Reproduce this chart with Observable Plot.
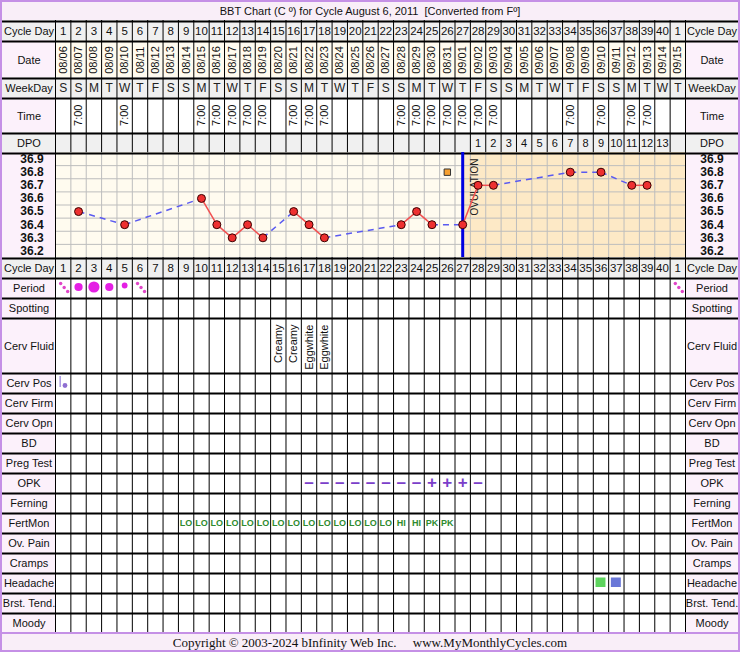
<!DOCTYPE html>
<html><head><meta charset="utf-8">
<script src="https://cdn.jsdelivr.net/npm/d3@7"></script>
<script src="https://cdn.jsdelivr.net/npm/@observablehq/plot@0.6"></script>
<style>
html,body{margin:0;padding:0;background:#fff;}
#wrap{width:736px;border:2px solid #c590e6;font-family:"Liberation Sans",Arial,sans-serif;color:#111;}
#title{height:18px;background:#f9eef8;text-align:center;font-size:11px;line-height:19px;white-space:pre;}
#footer{height:16px;background:#f9eef8;text-align:center;font-family:"Liberation Serif","Times New Roman",serif;font-size:13px;line-height:17px;white-space:pre;border-top:2px solid #c590e6;}
svg{display:block;}
</style></head>
<body>
<div id="wrap">
  <div id="title">BBT Chart (C º) for Cycle August 6, 2011  [Converted from Fº]</div>
  <div id="rows"></div>
  <div id="footer">Copyright © 2003-2024 bInfinity Web Inc.     www.MyMonthlyCycles.com</div>
</div>
<script>
// ---------- data ----------
const cycleDays = [1,2,3,4,5,6,7,8,9,10,11,12,13,14,15,16,17,18,19,20,21,22,23,24,25,26,27,28,29,30,31,32,33,34,35,36,37,38,39,40,1];
const dates = ["08/06","08/07","08/08","08/09","08/10","08/11","08/12","08/13","08/14","08/15","08/16","08/17","08/18","08/19","08/20","08/21","08/22","08/23","08/24","08/25","08/26","08/27","08/28","08/29","08/30","08/31","09/01","09/02","09/03","09/04","09/05","09/06","09/07","09/08","09/09","09/10","09/11","09/12","09/13","09/14","09/15"];
const weekdays = ["S","S","M","T","W","T","F","S","S","M","T","W","T","F","S","S","M","T","W","T","F","S","S","M","T","W","T","F","S","S","M","T","W","T","F","S","S","M","T","W","T"];
const timeDays = [2,5,10,11,12,13,14,16,17,18,23,24,25,26,27,28,29,34,36,38,39];
const timeValue = "7:00";
const dpoDays = [28,29,30,31,32,33,34,35,36,37,38,39,40];
const dpoValues = [1,2,3,4,5,6,7,8,9,10,11,12,13];
const tempDays = [2,5,10,11,12,13,14,16,17,18,23,24,25,27,28,29,34,36,38,39];
const tempValues = [36.5,36.4,36.6,36.4,36.3,36.4,36.3,36.5,36.4,36.3,36.4,36.5,36.4,36.4,36.7,36.7,36.8,36.8,36.7,36.7];
const discardedDays = [26];
const discardedValues = [36.8];
const tempTicks = [36.9,36.8,36.7,36.6,36.5,36.4,36.3,36.2];
const ovulationDay = 27;
const periodCols = [0,1,2,3,4,5,40];
const periodFlow = ["spotting","medium","heavy","medium","light","spotting","spotting"];
const cervFluidDays = [15,16,17,18];
const cervFluidValues = ["Creamy","Creamy","Eggwhite","Eggwhite"];
const cervPosDays = [1];
const opkDays = [17,18,19,20,21,22,23,24,25,26,27,28];
const opkValues = ["–","–","–","–","–","–","–","–","+","+","+","–"];
const fertMonDays = [9,10,11,12,13,14,15,16,17,18,19,20,21,22,23,24,25,26];
const fertMonValues = ["LO","LO","LO","LO","LO","LO","LO","LO","LO","LO","LO","LO","LO","LO","HI","HI","PK","PK"];
const headacheDays = [36,37];
const headacheLevels = ["mild","moderate"];
const lowerLabels = ["Cerv Pos","Cerv Firm","Cerv Opn","BD","Preg Test","OPK","Ferning","FertMon","Ov. Pain","Cramps","Headache","Brst. Tend.","Moody"];

// ---------- layout / style ----------
const W = 736, N = cycleDays.length, LW = 53 / (630 / N);
const cols = d3.range(N);
const FONT = '"Liberation Sans", Arial, sans-serif';
const PINK = "#fcf1fb", GRAY = "#f0f0f0", CREAM = "#fffbef", LUTEAL = "#fde9c6";
const col = day => day - 1;

function row(h, marks, yDomain = [0, 1]) {
  return Plot.plot({
    width: W, height: h, margin: 0,
    x: {type: "linear", domain: [-LW, N + LW], range: [0, W], axis: null},
    y: {type: "linear", domain: yDomain, range: [h, 0], axis: null},
    style: {background: "transparent", fontFamily: FONT, fontSize: "11px", color: "#111", overflow: "visible"},
    marks
  });
}

function tableRow({label, h = 20, labelFill = PINK, cellFill = "white", extra = []}) {
  return row(h, [
    Plot.rect([0], {x1: -LW, x2: 0, y1: 0, y2: 1, fill: labelFill}),
    Plot.rect([0], {x1: N, x2: N + LW, y1: 0, y2: 1, fill: labelFill}),
    Plot.rect([0], {x1: 0, x2: N, y1: 0, y2: 1, fill: cellFill}),
    Plot.ruleX(d3.range(N + 1), {stroke: "#000", strokeWidth: 1}),
    Plot.ruleY([1], {stroke: "#000", strokeWidth: 2, dy: 1}),
    Plot.text([label], {x: -LW / 2, y: 0.5, dy: 1, text: d => d, fill: "#111"}),
    Plot.text([label], {x: N + LW / 2, y: 0.5, dy: 1, text: d => d, fill: "#111"}),
    ...extra
  ]);
}

const rowsEl = document.getElementById("rows");
const add = el => rowsEl.appendChild(el);

const cycleDayRow = () => tableRow({label: "Cycle Day", labelFill: GRAY, cellFill: GRAY, extra: [
  Plot.text(cycleDays, {x: (d, i) => i + 0.5, y: 0.5, dy: 1, text: d => String(d), fontSize: 11.5})
]});

add(cycleDayRow());
add(tableRow({label: "Date", h: 37, cellFill: CREAM, extra: [
  Plot.text(dates, {x: (d, i) => i + 0.5, y: 0.5, dy: 1, text: d => d, rotate: -90, fontSize: 11})
]}));
add(tableRow({label: "WeekDay", labelFill: GRAY, cellFill: GRAY, extra: [
  Plot.text(weekdays, {x: (d, i) => i + 0.5, y: 0.5, dy: 1, text: d => d, fontSize: 12, fill: "#222"})
]}));
add(tableRow({label: "Time", h: 35, extra: [
  Plot.text(timeDays, {x: d => col(d) + 0.5, y: 1, dy: 7, text: () => timeValue, rotate: -90, textAnchor: "end", fontSize: 11})
]}));
add(tableRow({label: "DPO", labelFill: GRAY, cellFill: GRAY, extra: [
  Plot.text(dpoDays, {x: d => col(d) + 0.5, y: 0.5, dy: 1, text: (d, i) => String(dpoValues[i]), fontSize: 11})
]}));

// ---------- temperature chart ----------
const yLo = 36.15, yHi = 36.95;
const temps = tempDays.map((d, i) => ({c: col(d), t: tempValues[i]}));
const segs = d3.pairs(temps).map(([a, b]) => ({a, b, solid: b.c - a.c === 1}));
const gridTemps = d3.pairs(tempTicks).map(([a, b]) => (a + b) / 2);
const ovX = col(ovulationDay) + 0.5;
const link = (data, o) => Plot.link(data, {x1: s => s.a.c + 0.5, y1: s => s.a.t, x2: s => s.b.c + 0.5, y2: s => s.b.t, ...o});

add(row(105, [
  Plot.rect([0], {x1: -LW, x2: 0, y1: yLo, y2: yHi, fill: PINK}),
  Plot.rect([0], {x1: N, x2: N + LW, y1: yLo, y2: yHi, fill: PINK}),
  Plot.rect([0], {x1: 0, x2: N, y1: yLo, y2: yHi, fill: CREAM}),
  Plot.rect([0], {x1: ovX, x2: N, y1: yLo, y2: yHi, fill: LUTEAL}),
  Plot.ruleX(d3.range(1, N), {stroke: "#bdbdbd"}),
  Plot.ruleY(gridTemps, {x1: 0, x2: N, stroke: "#bdbdbd"}),
  Plot.ruleX([0, N], {stroke: "#000"}),
  Plot.ruleY([yHi], {stroke: "#000", strokeWidth: 2, dy: 1}),
  Plot.ruleX([ovX], {stroke: "#0000e0", strokeWidth: 3}),
  Plot.text(["OVULATION"], {x: ovX, frameAnchor: "top", dy: 63, dx: 8, rotate: -90, textAnchor: "start", text: d => d, fontSize: 10, fill: "#222"}),
  link(segs.filter(s => !s.solid), {stroke: "#5a5af0", strokeWidth: 1.5, strokeDasharray: "6,5"}),
  link(segs.filter(s => s.solid), {stroke: "#f25050", strokeWidth: 1.5}),
  Plot.dot(discardedDays, {x: d => col(d) + 0.5, y: (d, i) => discardedValues[i], symbol: "square", r: 3.6, fill: "#f7a030", stroke: "#333", strokeWidth: 1}),
  Plot.dot(temps, {x: d => d.c + 0.5, y: d => d.t, r: 4, fill: "#ee3030", stroke: "#3a0000", strokeWidth: 1}),
  Plot.text(tempTicks, {x: -LW / 2, dx: 3, y: d => d, text: d => d.toFixed(1), fontWeight: "bold", fontSize: 12, fill: "#111"}),
  Plot.text(tempTicks, {x: N + LW / 2, y: d => d, text: d => d.toFixed(1), fontWeight: "bold", fontSize: 12, fill: "#111"})
], [yLo, yHi]));

add(cycleDayRow());

// ---------- lower rows ----------
const period = periodCols.map((c, i) => ({c, f: periodFlow[i]}));
const flowR = {heavy: 5.6, medium: 4.1, light: 2.9};
const MAG = "#e41fe4", SPOT = "#e046c8";
const spot = period.filter(d => d.f === "spotting");
add(tableRow({label: "Period", extra: [
  ...["heavy", "medium", "light"].map(f => Plot.dot(period.filter(d => d.f === f), {x: d => d.c + 0.5, y: 0.5, dy: f === "light" ? -2 : -0.5, r: flowR[f], fill: MAG})),
  ...[[-2.5, -4], [1, 0], [4.5, 4]].map(([dx, dy]) => Plot.dot(spot, {x: d => d.c + 0.5, y: 0.5, dx, dy, r: 1.7, fill: SPOT}))
]}));
add(tableRow({label: "Spotting"}));
add(tableRow({label: "Cerv Fluid", h: 55, extra: [
  Plot.text(cervFluidDays, {x: d => col(d) + 0.5, y: 1, dy: 7, text: (d, i) => cervFluidValues[i], rotate: -90, textAnchor: "end", fontSize: 11})
]}));

const lowerExtras = {
  "Cerv Pos": [
    Plot.ruleX(cervPosDays, {x: d => col(d) + 0.5, dx: -3, y1: 0.25, y2: 0.8, stroke: "#a897e2", strokeWidth: 1.5}),
    Plot.dot(cervPosDays, {x: d => col(d) + 0.5, y: 0.5, dx: 1.8, dy: 3, r: 2.4, fill: "#8f6fd2"})
  ],
  "OPK": [
    Plot.text(opkDays, {x: d => col(d) + 0.5, y: 0.5, dy: 0.5, text: (d, i) => opkValues[i], fontSize: 17, fontWeight: "bold", fill: "#7b3fca"})
  ],
  "FertMon": [
    Plot.text(fertMonDays, {x: d => col(d) + 0.5, y: 0.5, dy: 1, text: (d, i) => fertMonValues[i], fontSize: 9, fontWeight: "bold", fill: "#2e8b2e"})
  ],
  "Headache": [
    Plot.rect(headacheDays, {x1: d => col(d), x2: d => col(d) + 1, y1: 0, y2: 1, insetLeft: 2.7, insetRight: 2.7, insetTop: 5.5, insetBottom: 5,
      fill: (d, i) => headacheLevels[i] === "mild" ? "#5dd45d" : "#6a78d8"})
  ]
};
for (const label of lowerLabels) add(tableRow({label, extra: lowerExtras[label] || []}));
</script>
</body></html>
